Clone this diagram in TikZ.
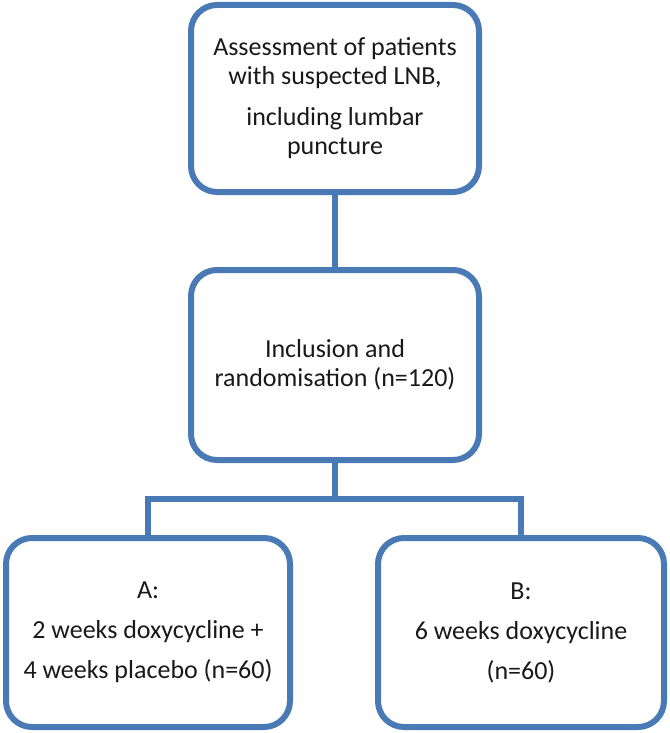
\documentclass[tikz,border=0pt]{standalone}
\usepackage{fontspec}
\setmainfont{Carlito}
\definecolor{boxblue}{RGB}{74,122,182}
\begin{document}
\begin{tikzpicture}[x=1pt,y=1pt,
  box/.style={draw=boxblue, line width=6pt, rounded corners=26pt, fill=white,
    align=center, inner sep=0pt, text=black!90,
    font=\fontsize{26}{29}\selectfont},
  conn/.style={draw=boxblue, line width=6pt}]
\useasboundingbox (0,0) rectangle (669,-733);
\node[box, minimum width=288pt, minimum height=187pt] (top) at (335,-98.5)
  {Assessment of patients\\ with suspected LNB,\\[12pt] including lumbar\\ puncture};
\node[box, minimum width=288pt, minimum height=190pt] (mid) at (335,-365)
  {Inclusion and\\ randomisation (n=120)};
\node[box, minimum width=284pt, minimum height=189pt] (a) at (148,-632.5)
  {A:\\[11pt] 2 weeks doxycycline +\\[11pt] 4 weeks placebo (n=60)};
\node[box, minimum width=286pt, minimum height=189pt] (b) at (521,-632.5)
  {B:\\[11pt] 6 weeks doxycycline\\[11pt] (n=60)};
\coordinate (j) at (335,-499);
\draw[conn] (top.south) -- (mid.north);
\draw[conn] (mid.south) -- (j);
\draw[conn] (a.north) |- (j) -| (b.north);
\end{tikzpicture}
\end{document}
